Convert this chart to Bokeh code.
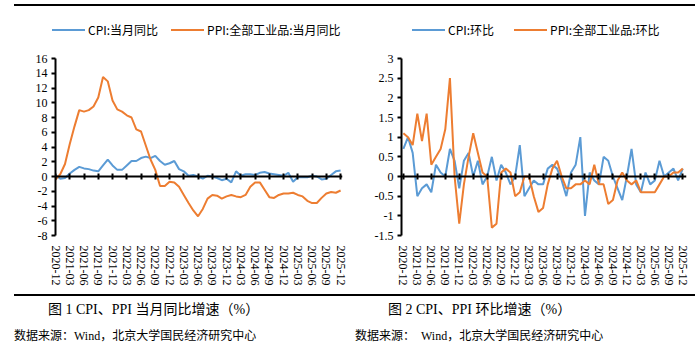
from bokeh.plotting import figure
from bokeh.models import (Range1d, FixedTicker, LinearAxis, Div)
from bokeh.layouts import column, row
from bokeh.embed import file_html
from bokeh.resources import INLINE

# ---------------- data ----------------
months_idx = list(range(61))  # 2020-12 ... 2025-12
tick_labels = ["2020-12", "2021-03", "2021-06", "2021-09", "2021-12", "2022-03", "2022-06",
               "2022-09", "2022-12", "2023-03", "2023-06", "2023-09", "2023-12", "2024-03",
               "2024-06", "2024-09", "2024-12", "2025-03", "2025-06", "2025-09", "2025-12"]

cpi_yoy = [0.2,
           -0.3, -0.2, 0.4, 0.9, 1.3, 1.1, 1.0, 0.8, 0.7, 1.5, 2.3, 1.5,
           0.9, 0.9, 1.5, 2.1, 2.1, 2.5, 2.7, 2.5, 2.8, 2.1, 1.6, 1.8,
           2.1, 1.0, 0.7, 0.1, 0.2, 0.0, -0.3, 0.1, 0.0, -0.2, -0.5, -0.3,
           -0.8, 0.7, 0.1, 0.3, 0.3, 0.2, 0.5, 0.6, 0.4, 0.3, 0.2, 0.1,
           0.5, -0.7, -0.1, -0.1, -0.1, 0.1, 0.0, -0.4, -0.3, 0.2, 0.7, 0.8]
ppi_yoy = [-0.4,
           0.3, 1.7, 4.4, 6.8, 9.0, 8.8, 9.0, 9.5, 10.7, 13.5, 12.9, 10.3,
           9.1, 8.8, 8.3, 8.0, 6.4, 6.1, 4.2, 2.3, 0.9, -1.3, -1.3, -0.7,
           -0.8, -1.4, -2.5, -3.6, -4.6, -5.4, -4.4, -3.0, -2.5, -2.6, -3.0, -2.7,
           -2.5, -2.7, -2.8, -2.5, -1.4, -0.8, -0.8, -1.8, -2.8, -2.9, -2.5, -2.3,
           -2.3, -2.2, -2.5, -2.7, -3.3, -3.6, -3.6, -2.9, -2.3, -2.1, -2.2, -1.9]
cpi_mom = [0.7,
           1.0, 0.6, -0.5, -0.3, -0.2, -0.4, 0.3, 0.1, 0.0, 0.7, 0.4, -0.3,
           0.4, 0.6, 0.0, 0.4, -0.2, 0.0, 0.5, -0.1, 0.3, 0.1, -0.2, 0.0,
           0.8, -0.5, -0.3, -0.1, -0.2, -0.2, 0.2, 0.3, 0.2, -0.1, -0.5, 0.1,
           0.3, 1.0, -1.0, 0.1, -0.1, -0.2, 0.5, 0.4, 0.0, -0.3, -0.6, 0.0,
           0.7, -0.2, -0.4, 0.1, -0.2, -0.1, 0.4, 0.0, 0.1, 0.2, -0.1, 0.2]
ppi_mom = [1.1,
           1.0, 0.8, 1.6, 0.9, 1.6, 0.3, 0.5, 0.7, 1.2, 2.5, 0.0, -1.2,
           -0.2, 0.5, 1.1, 0.6, 0.1, 0.0, -1.3, -1.2, 0.1, 0.2, 0.1, -0.5,
           -0.4, 0.0, 0.0, -0.5, -0.9, -0.8, -0.2, 0.2, 0.4, 0.0, -0.3, -0.3,
           -0.2, -0.2, -0.1, -0.2, 0.3, -0.2, -0.2, -0.7, -0.6, -0.1, 0.1, -0.1,
           -0.2, -0.1, -0.4, -0.4, -0.4, -0.4, -0.2, 0.0, 0.0, 0.1, 0.1, 0.2]

yoy_ticks = [-8, -6, -4, -2, 0, 2, 4, 6, 8, 10, 12, 14, 16]
yoy_tick_labels = ["-8", "-6", "-4", "-2", "0", "2", "4", "6", "8", "10", "12", "14", "16"]
mom_ticks = [-1.5, -1, -0.5, 0, 0.5, 1, 1.5, 2, 2.5, 3]
mom_tick_labels = ["-1.5", "-1", "-0.5", "0", "0.5", "1", "1.5", "2", "2.5", "3"]

legend1 = ["CPI:当月同比", "PPI:全部工业品:当月同比"]
legend2 = ["CPI:环比", "PPI:全部工业品:环比"]
caption1 = "图 1 CPI、PPI 当月同比增速（%）"
caption2 = "图 2 CPI、PPI 环比增速（%）"
source1 = "数据来源：Wind，北京大学国民经济研究中心"
source2 = "数据来源：&nbsp;&nbsp;Wind，北京大学国民经济研究中心"

BLUE = "#5B9BD5"
ORANGE = "#ED7D31"
SERIF = "Times New Roman"


def make_fig(cpi, ppi, yr, yticks, ylabels, xr, bl, br):
    p = figure(width=350, height=240, x_range=Range1d(*xr), y_range=Range1d(*yr),
               output_backend="svg", toolbar_location=None,
               min_border_left=bl, min_border_right=br,
               min_border_top=8, min_border_bottom=55)
    p.outline_line_color = None
    p.grid.visible = False
    p.line(months_idx, cpi, line_color=BLUE, line_width=2)
    p.line(months_idx, ppi, line_color=ORANGE, line_width=2)

    xt = list(range(0, 61, 3))
    xa = p.xaxis[0]
    xa.ticker = FixedTicker(ticks=xt)
    xa.major_label_overrides = {t: lab for t, lab in zip(xt, tick_labels)}
    xa.major_label_orientation = "vertical"
    xa.axis_line_color = None
    xa.major_tick_line_color = None
    xa.minor_tick_line_color = None
    xa.major_label_standoff = 4
    xa.major_label_text_font = SERIF
    xa.major_label_text_font_size = "12px"
    xa.major_label_text_color = "black"

    za = LinearAxis(fixed_location=0, ticker=FixedTicker(ticks=xt))
    za.axis_line_width = 2
    za.axis_line_color = "black"
    za.major_tick_in = 3
    za.major_tick_out = 3
    za.major_tick_line_width = 2
    za.minor_tick_line_color = None
    za.major_label_overrides = {t: "" for t in xt}
    za.major_label_text_font_size = "0px"
    p.add_layout(za, "below")

    ya = p.yaxis[0]
    ya.ticker = FixedTicker(ticks=yticks)
    ya.major_label_overrides = {t: lab for t, lab in zip(yticks, ylabels)}
    ya.axis_line_width = 2
    ya.axis_line_color = "black"
    ya.major_tick_in = 0
    ya.major_tick_out = 4
    ya.major_tick_line_width = 2
    ya.minor_tick_line_color = None
    ya.major_label_standoff = 4
    ya.major_label_text_font = SERIF
    ya.major_label_text_font_size = "12px"
    ya.major_label_text_color = "black"
    return p


f1 = make_fig(cpi_yoy, ppi_yoy, (-8, 16), yoy_ticks, yoy_tick_labels,
              (0, 60.4), 55, 8)
f2 = make_fig(cpi_mom, ppi_mom, (-1.5, 3), mom_ticks, mom_tick_labels,
              (-0.4, 60.8), 51, 14)


def legend_html(x_first, gap, names):
    sw = '<span style="display:inline-block;width:33px;height:2px;background:{c};vertical-align:middle;margin-right:3px;"></span>'
    return (f'<div style="position:absolute;left:{x_first}px;top:18px;font-family:\'Noto Sans CJK SC\';'
            f'font-size:12px;line-height:20px;white-space:nowrap;color:#000;">'
            + sw.format(c=BLUE) + f'<span style="vertical-align:middle;">{names[0]}</span>'
            + f'<span style="display:inline-block;width:{gap}px;"></span>'
            + sw.format(c=ORANGE) + f'<span style="vertical-align:middle;">{names[1]}</span></div>')


top_html = ('<div style="position:relative;width:700px;height:50px;">'
            '<div style="position:absolute;left:14px;top:4px;width:681px;height:2px;background:#000;"></div>'
            + legend_html(52, 13, legend1) + legend_html(412, 20, legend2) + '</div>')
top = Div(text=top_html, width=700, height=50, margin=0)

font_css = "font-family:'Liberation Serif','Noto Sans CJK SC';color:#000;white-space:nowrap;"
bottom_html = (
    f'<div style="position:relative;width:700px;height:55px;{font_css}">'
    '<div style="position:absolute;left:14px;top:4px;width:681px;height:2px;background:#000;"></div>'
    f'<div style="position:absolute;left:48px;top:11px;font-size:14px;line-height:18px;">{caption1}</div>'
    f'<div style="position:absolute;left:388px;top:11px;font-size:14px;line-height:18px;">{caption2}</div>'
    f'<div style="position:absolute;left:14px;top:38px;font-size:12px;line-height:16px;">{source1}</div>'
    f'<div style="position:absolute;left:355px;top:38px;font-size:12px;line-height:16px;">{source2}</div>'
    '</div>')
bottom = Div(text=bottom_html, width=700, height=55, margin=0)

layout = column(top, row(f1, f2, spacing=0), bottom, spacing=0)

open("out.html", "w").write(file_html(layout, INLINE))
